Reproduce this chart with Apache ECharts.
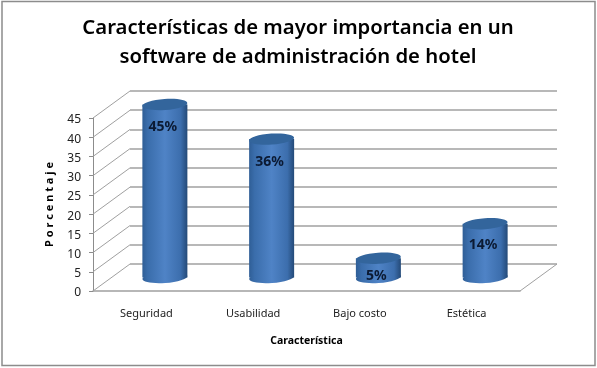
<!DOCTYPE html>
<html><head><meta charset="utf-8">
<style>html,body{margin:0;padding:0;background:#fff}#c{width:597px;height:368px}</style>
<script src="https://cdn.jsdelivr.net/npm/echarts@6/dist/echarts.min.js"></script>
</head><body><div id="c"></div>
<script>
const categories = ['Seguridad', 'Usabilidad', 'Bajo costo', 'Estética'];
const values = [45, 36, 5, 14];
const tickValues = [0, 5, 10, 15, 20, 25, 30, 35, 40, 45];
const titleText = 'Características de mayor importancia en un\nsoftware de administración de hotel';
const yName = 'P o r c e n t a j e';
const xName = 'Característica';

const front = {left: 93, top: 118, width: 427, height: 173};
const depthX = 37, depthY = -27;
const lineGray = '#a0a0a0';
const font = '"Noto Sans", sans-serif';

const chart = echarts.init(document.getElementById('c'), null, {renderer: 'canvas'});

function wallRender(params, api) {
  const p = api.coord([0, api.value(0)]);
  const cs = params.coordSys;
  const v = api.value(0);
  const children = [{
    type: 'line',
    shape: {x1: cs.x, y1: p[1], x2: cs.x + depthX, y2: p[1] + depthY},
    style: {stroke: lineGray, lineWidth: 1}
  }];
  if (v === 0) children.push({
    type: 'line',
    shape: {x1: cs.x + cs.width, y1: p[1], x2: cs.x + cs.width + depthX, y2: p[1] + depthY},
    style: {stroke: lineGray, lineWidth: 1}
  });
  return {type: 'group', children};
}

function cylRender(params, api) {
  const idx = api.value(0), v = api.value(1);
  const top = api.coord([idx, v]), base = api.coord([idx, 0]);
  const cx = top[0] + depthX / 2;
  const yT = top[1] + depthY / 2;
  const yB = base[1] + depthY / 2;
  const rx = 22.5, ry = 5.5;
  const h = yB - yT;
  const grad = () => new echarts.graphic.LinearGradient(0, 0, 1, 0, [
    {offset: 0, color: '#2f5e96'},
    {offset: 0.12, color: '#3a6dab'},
    {offset: 0.5, color: '#4f83c6'},
    {offset: 0.85, color: '#3c6ead'},
    {offset: 1, color: '#244a78'}
  ]);
  const tilt = 0.07;
  return {type: 'group', children: [
    {type: 'ellipse', shape: {cx, cy: yB, rx, ry},
     originX: cx, originY: yB, rotation: tilt, style: {fill: grad()}},
    {type: 'rect', shape: {x: cx - rx, y: yT, width: 2 * rx, height: h}, style: {fill: grad()}},
    {type: 'ellipse', shape: {cx, cy: yT, rx, ry},
     originX: cx, originY: yT, rotation: tilt,
     style: {fill: '#33659c'}},
    {type: 'text',
     style: {
       x: cx - 2, y: yT + Math.min(23, 15 + h * 0.12),
       text: v + '%', align: 'center', verticalAlign: 'middle',
       font: 'bold 14px ' + font, fill: '#0b1a33'
     }}
  ]};
}

chart.setOption({
  animation: false,
  backgroundColor: '#ffffff',
  graphic: [{
    type: 'rect', z: -1, silent: true,
    shape: {x: 2, y: 1.5, width: 593, height: 364},
    style: {fill: '#fff', stroke: '#8c8c8c', lineWidth: 1.5}
  }],
  title: {
    text: titleText, left: 293, top: 9, textAlign: 'center',
    textStyle: {fontFamily: font, fontSize: 20.3, fontWeight: 600, lineHeight: 29, color: '#000'}
  },
  grid: [
    {left: front.left, top: front.top, width: front.width, height: front.height},
    {left: front.left + depthX, top: front.top + depthY, width: front.width, height: front.height}
  ],
  xAxis: [
    {type: 'category', gridIndex: 0, data: categories,
     axisTick: {show: false},
     axisLine: {lineStyle: {color: lineGray, width: 1.5}},
     axisLabel: {color: '#222', fontFamily: font, fontSize: 11, margin: 17},
     name: xName, nameLocation: 'middle', nameGap: 45,
     nameTextStyle: {fontFamily: font, fontWeight: 'bold', fontSize: 10.5, color: '#000'}},
    {type: 'category', gridIndex: 1, data: categories, show: false}
  ],
  yAxis: [
    {type: 'value', gridIndex: 0, min: 0, max: 45, interval: 5,
     axisLine: {show: true, lineStyle: {color: '#8c8c8c'}},
     axisTick: {show: true, length: 4, lineStyle: {color: '#8c8c8c'}},
     splitLine: {show: false},
     axisLabel: {color: '#222', fontFamily: font, fontSize: 12, margin: 12, verticalAlign: 'top', lineHeight: 4, padding: 0},
     name: yName, nameLocation: 'middle', nameGap: 38, nameRotate: 90,
     nameTextStyle: {fontFamily: font, fontWeight: 'bold', fontSize: 11, color: '#000'}},
    {type: 'value', gridIndex: 1, min: 0, max: 45, interval: 5,
     axisLine: {show: false}, axisTick: {show: false}, axisLabel: {show: false},
     splitLine: {show: true, lineStyle: {color: lineGray, width: 1.5}}}
  ],
  series: [
    {type: 'custom', xAxisIndex: 0, yAxisIndex: 0, clip: false, z: 1,
     data: tickValues.map(v => [v]), encode: {y: 0},
     renderItem: wallRender, silent: true},
    {type: 'custom', xAxisIndex: 0, yAxisIndex: 0, clip: false, z: 3,
     data: values.map((v, i) => [i, v]), encode: {x: 0, y: 1},
     renderItem: cylRender, silent: true}
  ]
});
</script></body></html>
